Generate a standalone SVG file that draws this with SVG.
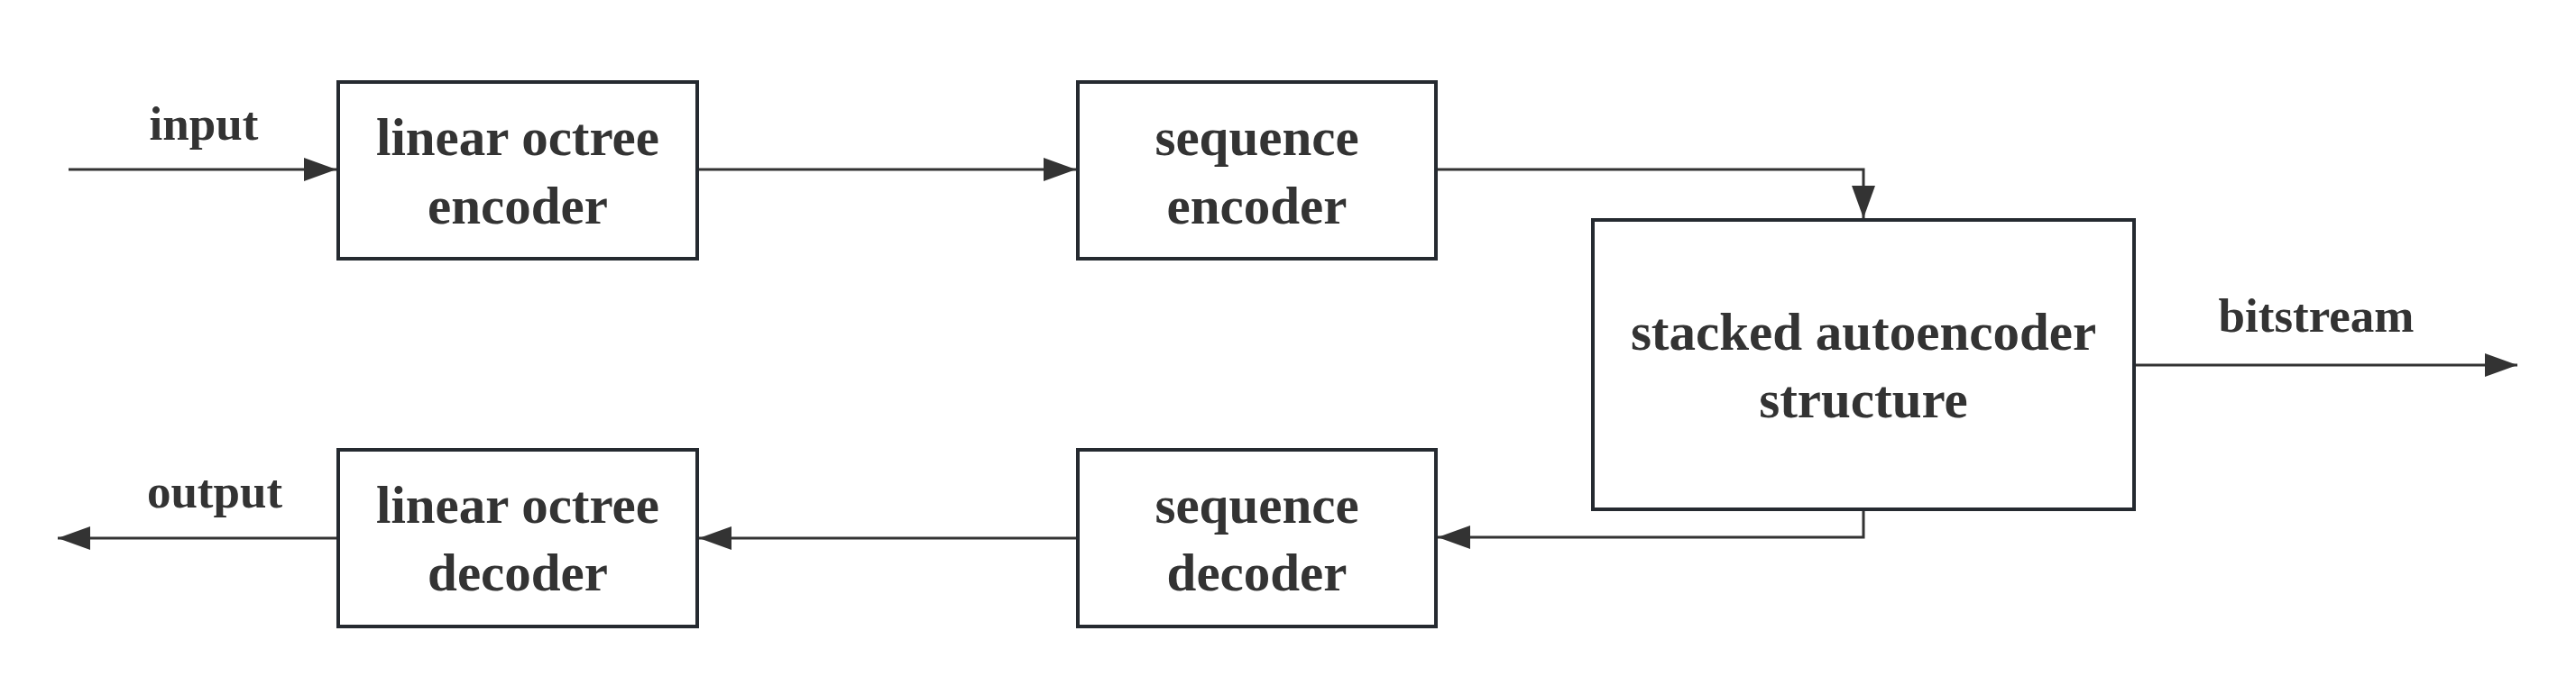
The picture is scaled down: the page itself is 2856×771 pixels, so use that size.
<svg xmlns="http://www.w3.org/2000/svg" width="2856" height="771" viewBox="0 0 2856 771">
<style>
.box{fill:#ffffff;stroke:#252a30;stroke-width:4}
.t{font-family:"Liberation Serif","Times New Roman",serif;font-weight:bold;font-size:59px;fill:#333333;text-anchor:middle}
.l{font-family:"Liberation Serif","Times New Roman",serif;font-weight:bold;font-size:53px;fill:#333333;text-anchor:middle}
.c{fill:none;stroke:#333333;stroke-width:3;marker-end:url(#arr)}
</style>
<defs>
<marker id="arr" markerUnits="userSpaceOnUse" markerWidth="36" markerHeight="26" refX="36" refY="13" orient="auto">
<path d="M0,0 L36,13 L0,26 z" fill="#333333"/>
</marker>
</defs>
<rect width="2856" height="771" fill="#ffffff"/>
<g id="connectors">
<path class="c" d="M76,188 H373"/>
<path class="c" d="M775,188 H1193"/>
<path class="c" d="M1594,188 H2066 V242"/>
<path class="c" d="M2368,405 H2791"/>
<path class="c" d="M2066,567 V596 H1594"/>
<path class="c" d="M1193,597 H775"/>
<path class="c" d="M373,597 H64"/>
<text class="l" x="226" y="155">input</text>
<text class="l" x="2568" y="368">bitstream</text>
<text class="l" x="238" y="563">output</text>
</g>
<g id="linear-octree-encoder">
<rect class="box" x="375" y="91" width="398" height="196"/>
<text class="t" x="574" y="172">linear octree</text>
<text class="t" x="574" y="248">encoder</text>
</g>
<g id="sequence-encoder">
<rect class="box" x="1195" y="91" width="397" height="196"/>
<text class="t" x="1393.5" y="172">sequence</text>
<text class="t" x="1393.5" y="248">encoder</text>
</g>
<g id="stacked-autoencoder">
<rect class="box" x="1766" y="244" width="600" height="321"/>
<text class="t" x="2066" y="388">stacked autoencoder</text>
<text class="t" x="2066" y="463">structure</text>
</g>
<g id="sequence-decoder">
<rect class="box" x="1195" y="499" width="397" height="196"/>
<text class="t" x="1393.5" y="580">sequence</text>
<text class="t" x="1393.5" y="655">decoder</text>
</g>
<g id="linear-octree-decoder">
<rect class="box" x="375" y="499" width="398" height="196"/>
<text class="t" x="574" y="580">linear octree</text>
<text class="t" x="574" y="655">decoder</text>
</g>
</svg>
